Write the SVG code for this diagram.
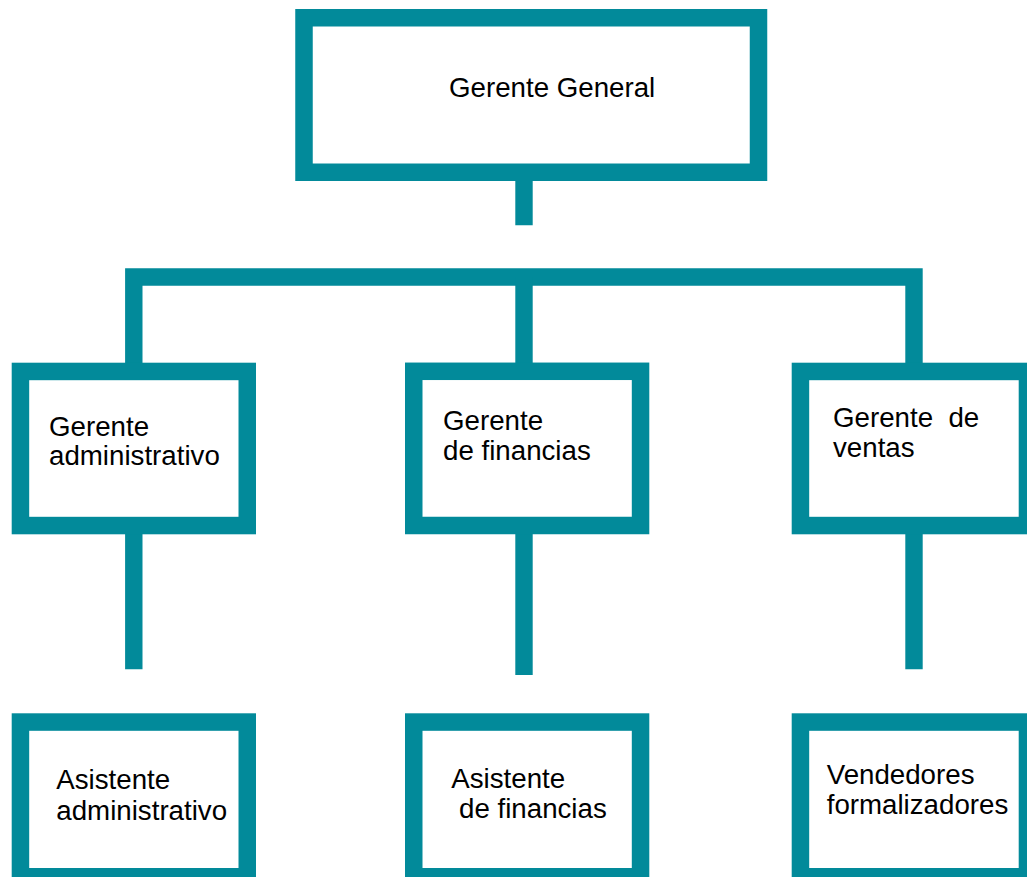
<svg xmlns="http://www.w3.org/2000/svg" width="1027" height="877" viewBox="0 0 1027 877">
  <style>
    .box { fill: #ffffff; stroke: #028A9A; stroke-width: 17.5; }
    .conn { fill: none; stroke: #028A9A; stroke-width: 17.4; stroke-linecap: butt; stroke-linejoin: miter; }
    .lbl { font-family: "Liberation Sans", Arial, sans-serif; font-size: 27.7px; fill: #000000; white-space: pre; }
  </style>
  <rect width="1027" height="877" fill="#ffffff"/>
  <g id="connectors">
    <path class="conn" d="M524,172 V225.3"/>
    <path class="conn" d="M133.8,363 V277 H914 V363"/>
    <path class="conn" d="M524,277 V363"/>
    <path class="conn" d="M133.8,534 V669.3"/>
    <path class="conn" d="M524,534 V675"/>
    <path class="conn" d="M914,534 V669.3"/>
  </g>
  <g id="gerente-general">
    <rect class="box" x="304" y="17.75" width="454.5" height="154.5"/>
    <text class="lbl" x="449" y="96.5">Gerente General</text>
  </g>
  <g id="gerente-administrativo">
    <rect class="box" x="20.45" y="371.45" width="226.8" height="154.1"/>
    <text class="lbl" x="49" y="435.7">Gerente</text>
    <text class="lbl" x="49" y="465">administrativo</text>
  </g>
  <g id="gerente-financias">
    <rect class="box" x="413.75" y="371.3" width="226.8" height="154.2"/>
    <text class="lbl" x="443" y="429.7">Gerente</text>
    <text class="lbl" x="443" y="459.9">de financias</text>
  </g>
  <g id="gerente-ventas">
    <rect class="box" x="800.45" y="371.45" width="227" height="154.1"/>
    <text class="lbl" x="833" y="426.7">Gerente  de</text>
    <text class="lbl" x="833" y="456.7">ventas</text>
  </g>
  <g id="asistente-administrativo">
    <rect class="box" x="20.45" y="722.05" width="226.8" height="154.7"/>
    <text class="lbl" x="56.3" y="789.3">Asistente</text>
    <text class="lbl" x="56.3" y="820">administrativo</text>
  </g>
  <g id="asistente-financias">
    <rect class="box" x="413.75" y="722.05" width="226.8" height="154.7"/>
    <text class="lbl" x="451.3" y="787.7">Asistente</text>
    <text class="lbl" x="459" y="817.7">de financias</text>
  </g>
  <g id="vendedores-formalizadores">
    <rect class="box" x="800.45" y="722.05" width="227" height="154.7"/>
    <text class="lbl" x="826.7" y="784">Vendedores</text>
    <text class="lbl" x="826.7" y="814">formalizadores</text>
  </g>
</svg>
